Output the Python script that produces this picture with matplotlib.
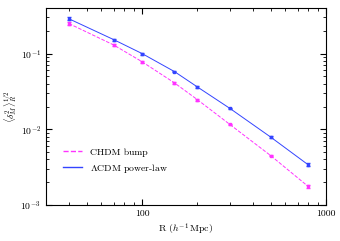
import numpy as np
import matplotlib
matplotlib.use('Agg')
import matplotlib.pyplot as plt
from matplotlib.lines import Line2D
from matplotlib.ticker import FixedLocator, FixedFormatter, NullFormatter

# data
R = [40, 70, 100, 150, 200, 300, 500, 800]
lcdm_power = [0.288, 0.153, 0.100, 0.0578, 0.0362, 0.0189, 0.0079, 0.0034]
chdm_bump = [0.249, 0.130, 0.078, 0.041, 0.0246, 0.0116, 0.0045, 0.00176]
lcdm_err = [0.012, 0.005, 0.003, 0.0015, 0.0009, 0.0005, 0.0002, 0.00015]
chdm_err = [0.010, 0.004, 0.002, 0.0010, 0.0006, 0.0003, 0.00012, 0.00006]
xticks = [100, 1000]
xticklabels = ['100', '1000']

plt.rcParams['font.family'] = 'serif'
plt.rcParams['font.serif'] = ['cmr10']
plt.rcParams['mathtext.fontset'] = 'cm'
plt.rcParams['axes.formatter.use_mathtext'] = True
plt.rcParams['font.size'] = 7

pink = '#ff33ff'
blue = '#3344ff'

fig = plt.figure(figsize=(3.4, 2.41), dpi=100)
ax = fig.add_axes([0.135, 0.149, 0.824, 0.818])

ax.errorbar(R, chdm_bump, yerr=chdm_err, color=pink, ls='--', lw=0.7,
            marker='s', ms=1.5, capsize=1.5, elinewidth=0.6)
ax.errorbar(R, lcdm_power, yerr=lcdm_err, color=blue, ls='-', lw=0.7,
            marker='s', ms=1.5, capsize=1.5, elinewidth=0.6)

ax.set_xscale('log')
ax.set_yscale('log')
ax.set_xlim(30, 1000)
ax.set_ylim(1e-3, 0.4)
ax.xaxis.set_major_locator(FixedLocator(xticks))
ax.xaxis.set_major_formatter(FixedFormatter(xticklabels))
ax.xaxis.set_minor_formatter(NullFormatter())
ax.tick_params(which='both', direction='in', top=True, right=True, labelsize=7)
ax.tick_params(which='major', length=4)
ax.tick_params(which='minor', length=2)
ax.set_xlabel(r'R $(h^{-1}\,\mathrm{Mpc})$', fontsize=7, labelpad=2)
ax.set_ylabel(r'$\langle\delta_M^2\rangle_R^{1/2}$', fontsize=7, labelpad=1)

handles = [Line2D([0, 1], [0, 0], color=pink, ls='--', lw=1.0),
           Line2D([0, 1], [0, 0], color=blue, ls='-', lw=1.0)]
leg = ax.legend(handles, ['CHDM bump', r'$\Lambda$CDM power-law'], loc='lower left',
                frameon=False, fontsize=7, handlelength=2.0, bbox_to_anchor=(0.03, 0.11))
for line in leg.get_lines():
    line.set_alpha(1)

fig.savefig('out.png', dpi=100)
